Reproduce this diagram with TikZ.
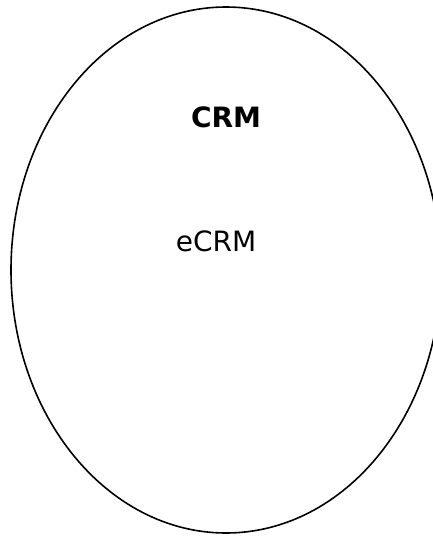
\documentclass[tikz,border=0pt]{standalone}
\usepackage{fontspec}
\setmainfont{DejaVu Sans}
\begin{document}
\begin{tikzpicture}[x=1pt,y=-1pt,
  label text/.style={font=\fontsize{28}{31}\selectfont, inner sep=0pt}]
  \useasboundingbox (0,0) rectangle (433,536);
  \draw[line width=1.6pt] (226,270) ellipse [x radius=215, y radius=263];
  \node[label text, font=\fontsize{28}{31}\selectfont\bfseries] (crm) at (226,117) {CRM};
  \node[label text] (ecrm) at (216,241) {eCRM};
\end{tikzpicture}
\end{document}
